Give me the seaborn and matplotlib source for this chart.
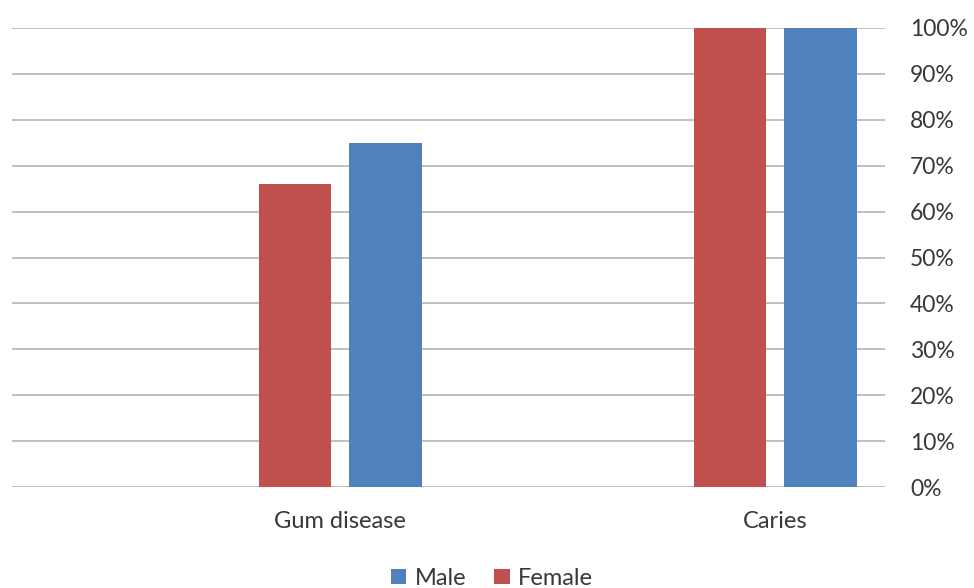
import matplotlib
matplotlib.use("Agg")
import matplotlib.pyplot as plt
import seaborn as sns
import pandas as pd
from matplotlib.ticker import PercentFormatter

# Share of patients with each condition, by sex
conditions = ["Gum disease", "Caries"]
female = [66, 100]
male = [75, 100]
y_ticks = list(range(0, 101, 10))

df = pd.DataFrame({
    "Condition": conditions * 2,
    "Sex": ["Female"] * len(conditions) + ["Male"] * len(conditions),
    "Percent": female + male,
})

sns.set_theme(style="white")
plt.rcParams["font.family"] = ["Lato", "DejaVu Sans"]
text_color = "#383838"

fig = plt.figure(figsize=(9.74, 5.88), dpi=100)
ax = fig.add_axes([12 / 974, 101 / 588, 873 / 974, 459 / 588])

palette = {"Female": "#C0504D", "Male": "#4F81BD"}
sns.barplot(data=df, x="Condition", y="Percent", hue="Sex",
            hue_order=["Female", "Male"], order=conditions,
            palette=palette, width=0.417, gap=0.2, saturation=1,
            edgecolor="none", ax=ax, zorder=3)

ax.set_xlim(-0.755, 1.252)
ax.set_ylim(0, 100)
ax.set_yticks(y_ticks)
ax.yaxis.set_major_formatter(PercentFormatter(decimals=0))
ax.yaxis.tick_right()
ax.set_xlabel("")
ax.set_ylabel("")
for s in ax.spines.values():
    s.set_visible(False)
ax.grid(axis="y", color="#c0c0c0", linewidth=1.4, zorder=0)
ax.set_axisbelow(True)
ax.tick_params(axis="y", length=0, pad=18, labelsize=16.5, labelcolor=text_color)
ax.tick_params(axis="x", length=0, pad=17, labelsize=17, labelcolor=text_color)
for lbl in ax.get_yticklabels():
    lbl.set_horizontalalignment("left")

handles, labels = ax.get_legend_handles_labels()
ax.get_legend().remove()
order = [labels.index("Male"), labels.index("Female")]
fig.legend([handles[i] for i in order], [labels[i] for i in order],
           loc="center", bbox_to_anchor=(0.505, 0.016), ncol=2, frameon=False,
           fontsize=17, labelcolor=text_color, handlelength=0.65,
           handleheight=0.62, handletextpad=0.35, columnspacing=1.2,
           borderaxespad=0)

fig.savefig("out.png", dpi=100, facecolor="white")
